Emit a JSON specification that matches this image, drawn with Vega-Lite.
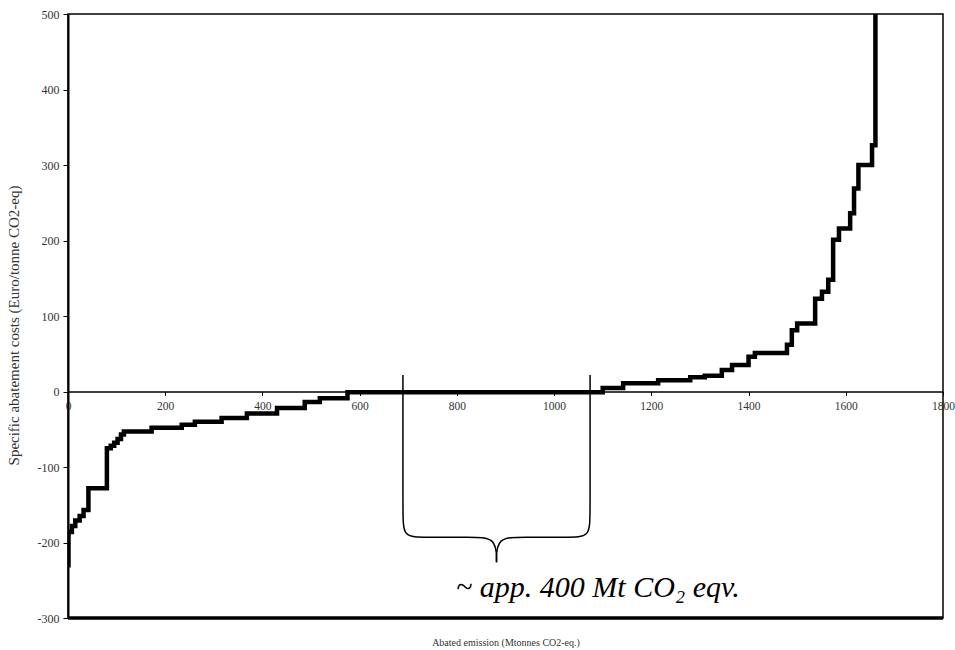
{
  "$schema": "https://vega.github.io/schema/vega-lite/v6.json",
  "width": 875,
  "height": 604,
  "autosize": {"type": "none"},
  "padding": {"left": 68, "top": 14, "right": 12, "bottom": 32},
  "background": "white",
  "config": {
    "view": {"stroke": "black", "strokeWidth": 1.5},
    "axis": {
      "labelFont": "Liberation Serif",
      "titleFont": "Liberation Serif",
      "labelColor": "#333",
      "titleColor": "#333",
      "titleFontWeight": "normal",
      "grid": false,
      "domainColor": "black",
      "tickColor": "black"
    }
  },
  "datasets": {
    "curve": [
      {"x": 0, "y": -230}, {"x": 1, "y": -186}, {"x": 8, "y": -178}, {"x": 15, "y": -171},
      {"x": 24, "y": -165}, {"x": 32, "y": -157}, {"x": 42, "y": -128}, {"x": 80, "y": -75},
      {"x": 88, "y": -72}, {"x": 95, "y": -68}, {"x": 102, "y": -63}, {"x": 109, "y": -57},
      {"x": 115, "y": -53}, {"x": 172, "y": -48}, {"x": 234, "y": -44}, {"x": 261, "y": -40},
      {"x": 316, "y": -35}, {"x": 368, "y": -29}, {"x": 430, "y": -22}, {"x": 487, "y": -14},
      {"x": 518, "y": -9}, {"x": 575, "y": -1}, {"x": 1100, "y": 4.6}, {"x": 1142, "y": 11},
      {"x": 1214, "y": 15}, {"x": 1280, "y": 19}, {"x": 1310, "y": 21}, {"x": 1345, "y": 28.5},
      {"x": 1366, "y": 35}, {"x": 1400, "y": 46}, {"x": 1413, "y": 51}, {"x": 1479, "y": 62},
      {"x": 1489, "y": 81}, {"x": 1500, "y": 90}, {"x": 1537, "y": 123}, {"x": 1551, "y": 132},
      {"x": 1564, "y": 148}, {"x": 1574, "y": 201}, {"x": 1586, "y": 216}, {"x": 1609, "y": 236},
      {"x": 1617, "y": 269}, {"x": 1626, "y": 300}, {"x": 1654, "y": 326}, {"x": 1661, "y": 500}
    ],
    "bracket": [
      {"side": "L", "o": 0, "x": 689, "y": 22},
      {"side": "L", "o": 1, "x": 689, "y": -164},
      {"side": "L", "o": 2, "x": 689, "y": -193},
      {"side": "L", "o": 3, "x": 734, "y": -193},
      {"side": "L", "o": 4, "x": 827, "y": -193},
      {"side": "L", "o": 5, "x": 881.5, "y": -193},
      {"side": "L", "o": 6, "x": 881.5, "y": -226},
      {"side": "R", "o": 0, "x": 1074, "y": 22},
      {"side": "R", "o": 1, "x": 1074, "y": -164},
      {"side": "R", "o": 2, "x": 1074, "y": -193},
      {"side": "R", "o": 3, "x": 1029, "y": -193},
      {"side": "R", "o": 4, "x": 936, "y": -193},
      {"side": "R", "o": 5, "x": 881.5, "y": -193},
      {"side": "R", "o": 6, "x": 881.5, "y": -226}
    ],
    "note": [{"x": 1090, "y": -272, "label": "~ app. 400 Mt CO₂ eqv."}],
    "border": [{"y": -300}]
  },
  "layer": [
    {
      "data": {"name": "curve"},
      "mark": {"type": "line", "interpolate": "step-after", "color": "black", "strokeWidth": 4.5, "clip": true},
      "encoding": {
        "x": {
          "field": "x", "type": "quantitative",
          "scale": {"domain": [0, 1800], "nice": false},
          "axis": {
            "values": [0, 200, 400, 600, 800, 1000, 1200, 1400, 1600, 1800],
            "labelExpr": "'' + datum.value",
            "offset": -226.5,
            "domainWidth": 1.5,
            "tickSize": 4,
            "labelFontSize": 11.5,
            "labelPadding": 5,
            "labelFlush": false,
            "labelOverlap": false,
            "title": "Abated emission (Mtonnes CO2-eq.)",
            "titleFontSize": 10,
            "titleY": 251,
            "titleBaseline": "middle"
          }
        },
        "y": {
          "field": "y", "type": "quantitative",
          "scale": {"domain": [-300, 500], "nice": false, "zero": false},
          "axis": {
            "values": [-300, -200, -100, 0, 100, 200, 300, 400, 500],
            "labelExpr": "datum.value < 0 ? '-' + abs(datum.value) : '' + datum.value",
            "domainWidth": 2,
            "tickSize": 5,
            "labelFontSize": 12,
            "labelPadding": 4,
            "title": "Specific abatement costs (Euro/tonne CO2-eq)",
            "titleFontSize": 15,
            "titleX": -55,
            "titleY": 311,
            "titleAngle": 270,
            "titleAlign": "center",
            "titleBaseline": "middle"
          }
        }
      }
    },
    {
      "data": {"name": "bracket"},
      "mark": {"type": "line", "interpolate": "basis", "color": "black", "strokeWidth": 1.5},
      "encoding": {
        "x": {"field": "x", "type": "quantitative"},
        "y": {"field": "y", "type": "quantitative"},
        "detail": {"field": "side"},
        "order": {"field": "o", "type": "quantitative"}
      }
    },
    {
      "data": {"name": "note"},
      "mark": {"type": "text", "font": "Liberation Serif", "fontStyle": "italic", "fontSize": 30, "align": "center", "baseline": "alphabetic", "color": "black"},
      "encoding": {
        "x": {"field": "x", "type": "quantitative"},
        "y": {"field": "y", "type": "quantitative"},
        "text": {"field": "label"}
      }
    },
    {
      "data": {"name": "border"},
      "mark": {"type": "rule", "color": "black", "strokeWidth": 3.5},
      "encoding": {
        "y": {"field": "y", "type": "quantitative"}
      }
    }
  ]
}
